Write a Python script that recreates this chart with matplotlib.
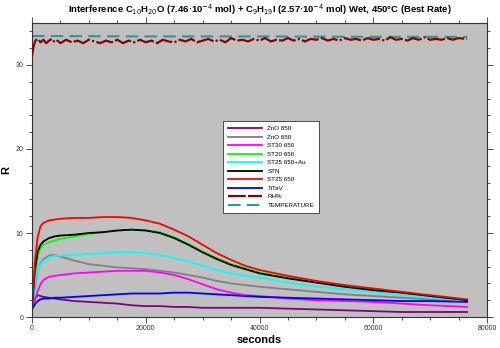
import matplotlib.pyplot as plt
from matplotlib.ticker import MultipleLocator

plt.rcParams['font.family'] = ['Liberation Sans', 'DejaVu Sans']

# tiempos comunes de los sensores (s)
t = [0, 500, 1000, 1500, 2000, 3000, 4000, 5000, 7500, 10000, 12500, 15000,
     17500, 20000, 22500, 25000, 27500, 30000, 32500, 35000, 37500, 40000,
     45000, 50000, 55000, 60000, 65000, 70000, 76500]

zno850 = [1.0, 2.2, 2.6, 2.5, 2.4, 2.3, 2.2, 2.1, 1.9, 1.8, 1.7, 1.6, 1.4, 1.3,
          1.3, 1.2, 1.2, 1.1, 1.1, 1.1, 1.1, 1.1, 1.0, 0.9, 0.8, 0.7, 0.6, 0.6, 0.6]
zno650 = [1.0, 3.5, 5.5, 6.4, 6.9, 7.3, 7.4, 7.2, 6.7, 6.3, 6.1, 5.9, 5.8, 5.7,
          5.5, 5.3, 5.0, 4.7, 4.3, 4.0, 3.8, 3.6, 3.3, 3.0, 2.7, 2.5, 2.3, 2.1, 1.9]
st30 = [0.9, 2.0, 3.1, 3.9, 4.4, 4.8, 4.9, 5.0, 5.2, 5.3, 5.4, 5.5, 5.5, 5.5,
        5.3, 5.0, 4.5, 3.9, 3.3, 2.9, 2.6, 2.5, 2.2, 2.0, 1.9, 1.8, 1.6, 1.4, 1.2]
st20 = [1.0, 5.0, 7.3, 8.2, 8.6, 8.9, 9.1, 9.3, 9.6, 9.9, 10.1, 10.3, 10.4, 10.3,
        10.1, 9.5, 8.7, 7.8, 7.0, 6.3, 5.8, 5.3, 4.7, 4.2, 3.7, 3.3, 2.9, 2.5, 2.0]
st25au = [1.0, 4.0, 5.6, 6.3, 6.7, 7.1, 7.3, 7.3, 7.4, 7.5, 7.6, 7.7, 7.7, 7.6,
          7.4, 7.0, 6.6, 6.1, 5.6, 5.2, 4.9, 4.7, 4.1, 3.6, 3.3, 3.0, 2.6, 2.3, 1.9]
stn = [1.0, 5.5, 7.8, 8.6, 9.0, 9.4, 9.6, 9.7, 9.8, 10.0, 10.1, 10.3, 10.4, 10.3,
       10.0, 9.4, 8.6, 7.7, 6.9, 6.2, 5.7, 5.2, 4.6, 4.1, 3.6, 3.2, 2.9, 2.5, 2.0]
st25 = [1.0, 6.5, 9.5, 10.8, 11.2, 11.5, 11.6, 11.7, 11.8, 11.8, 11.9, 11.9, 11.8,
        11.5, 11.1, 10.4, 9.6, 8.6, 7.6, 6.8, 6.1, 5.6, 4.9, 4.3, 3.8, 3.4, 3.0, 2.6, 2.1]
titav = [0.9, 1.5, 1.9, 2.1, 2.2, 2.2, 2.3, 2.3, 2.4, 2.5, 2.6, 2.7, 2.8, 2.8,
         2.8, 2.9, 2.9, 2.8, 2.7, 2.6, 2.5, 2.4, 2.3, 2.2, 2.1, 2.0, 1.9, 1.9, 1.8]

# humedad relativa y temperatura (escala reducida)
t_rh = [0, 300, 600, 1000, 1500, 2000, 2500, 3000, 3500, 4000, 4500, 5000,
        6000, 7000, 8000, 9000, 10000, 11000, 12000, 13000, 14000, 15000,
        16000, 17000, 18000, 19000, 20000, 21000, 22000, 23000, 24000, 25000,
        26000, 27000, 28000, 29000, 30000, 31000, 32000, 33000, 34000, 35000,
        36000, 37000, 38000, 39000, 40000, 41000, 42000, 43000, 44000, 45000,
        46000, 47000, 48000, 49000, 50000, 51000, 52000, 53000, 54000, 55000,
        56000, 57000, 58000, 59000, 60000, 61000, 62000, 63000, 64000, 65000,
        66000, 67000, 68000, 69000, 70000, 71000, 72000, 73000, 74000, 75000,
        76500]
rh = [31.1, 32.3, 32.9, 33.1, 32.7, 33.0, 32.6, 32.9, 33.1, 32.7, 32.9, 32.6,
      33.0, 32.7, 32.9, 32.6, 33.0, 32.8, 32.6, 32.9, 32.7, 33.0, 32.6, 32.9,
      32.7, 33.0, 32.7, 32.9, 32.6, 33.0, 32.8, 32.7, 33.0, 32.8, 33.1, 32.7,
      32.9, 33.1, 32.8, 33.0, 32.7, 33.2, 32.9, 33.0, 32.8, 33.1, 32.9, 33.2,
      32.8, 33.0, 32.9, 33.2, 32.9, 33.1, 32.8, 33.1, 33.0, 33.2, 32.9, 33.1,
      32.9, 33.2, 33.0, 33.1, 32.9, 33.2, 33.0, 33.1, 32.9, 33.3, 33.0, 33.1,
      32.9, 33.2, 33.0, 33.3, 33.0, 33.1, 33.0, 33.2, 33.0, 33.2, 33.1]
t_temp = [0, 20000, 40000, 60000, 76500]
temp = [33.45, 33.4, 33.4, 33.35, 33.35]

fig = plt.figure(figsize=(5, 3.48), dpi=100)
ax = fig.add_axes([0.064, 0.089, 0.91, 0.845])
ax.set_facecolor('#c0c0c0')

ax.plot(t_temp, temp, color='#2e9696', lw=1.5, ls=(0, (6, 3)), label='TEMPERATURE', zorder=2)
ax.plot(t_rh, rh, color='#8b0000', lw=1.6, ls=(0, (8, 1, 8, 1, 1, 1)), label='RH%', zorder=3)

ax.plot(t, zno850, color='#800080', lw=1.3, label='ZnO 850')
ax.plot(t, zno650, color='#808080', lw=1.3, label='ZnO 650')
ax.plot(t, st30, color='#ff00ff', lw=1.3, label='ST30 650')
ax.plot(t, st20, color='#00ff00', lw=1.3, label='ST20 650')
ax.plot(t, st25au, color='#00ffff', lw=1.3, label='ST25 650+Au')
ax.plot(t, stn, color='#000000', lw=1.3, label='STN')
ax.plot(t, st25, color='#ff0000', lw=1.3, label='ST25 650')
ax.plot(t, titav, color='#0000ff', lw=1.3, label='TiTaV')

ax.set_xlim(0, 80000)
ax.set_ylim(0, 35)
ax.xaxis.set_major_locator(MultipleLocator(20000))
ax.xaxis.set_minor_locator(MultipleLocator(5000))
ax.yaxis.set_major_locator(MultipleLocator(10))
ax.yaxis.set_minor_locator(MultipleLocator(2))
ax.tick_params(which='both', direction='out', top=True, right=True,
               labelsize=5, colors='#333333', width=0.6)
ax.tick_params(which='major', length=4, pad=2)
ax.tick_params(which='minor', length=2)
for s in ax.spines.values():
    s.set_linewidth(0.8)
    s.set_color('#333333')

ax.set_xlabel('seconds', fontsize=8, fontweight='bold', labelpad=2)
ax.set_ylabel('R', fontsize=8, fontweight='bold')
ax.yaxis.set_label_coords(-0.045, 0.5)
ax.set_title('Interference C$_{10}$H$_{20}$O (7.46$\\cdot$10$^{-4}$ mol) + '
             'C$_{9}$H$_{19}$I (2.57$\\cdot$10$^{-4}$ mol) Wet, 450°C (Best Rate)',
             fontsize=6.8, fontweight='bold', pad=7)

h, l = ax.get_legend_handles_labels()
orden = ['ZnO 850', 'ZnO 650', 'ST30 650', 'ST20 650', 'ST25 650+Au', 'STN',
         'ST25 650', 'TiTaV', 'RH%', 'TEMPERATURE']
hs = [h[l.index(n)] for n in orden]
leg = ax.legend(hs, orden, loc='upper left', bbox_to_anchor=(0.413, 0.677),
                fontsize=4.5, handlelength=5.5, labelspacing=0.5, fancybox=False,
                framealpha=1, edgecolor='#333333', borderpad=0.8)
leg.get_frame().set_linewidth(0.6)

fig.savefig('out.png', dpi=100)
